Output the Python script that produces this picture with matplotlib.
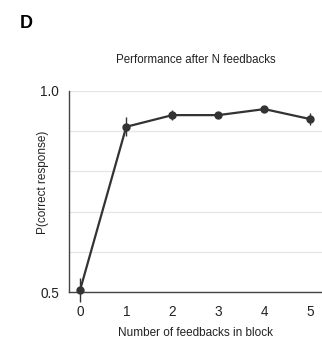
import matplotlib
matplotlib.use('Agg')
import matplotlib.pyplot as plt

plt.rcParams['font.family'] = ['Liberation Sans', 'DejaVu Sans']

# data
n_feedbacks = [0, 1, 2, 3, 4, 5]
p_correct = [0.506, 0.911, 0.940, 0.940, 0.955, 0.930]
p_err = [0.030, 0.024, 0.013, 0.004, 0.005, 0.015]

fig = plt.figure(figsize=(3.22, 3.39), dpi=100)
ax = fig.add_axes([68.7 / 322, 1 - 292 / 339, (322 - 68.7) / 322, (292 - 91) / 339])

ax.errorbar(n_feedbacks, p_correct, yerr=p_err, color='#333333', marker='o',
            markersize=5, linewidth=1.6, elinewidth=1.0, capsize=0, zorder=3,
            clip_on=False)

ax.set_xlim(-0.25, 5.25)
ax.set_ylim(0.5, 1.0)
ax.set_xticks(n_feedbacks)
ax.set_yticks([0.5, 0.6, 0.7, 0.8, 0.9, 1.0])
ax.set_yticklabels(['0.5', '', '', '', '', '1.0'])
ax.grid(axis='y', color='#e6e6e6', linewidth=1.0)
ax.set_axisbelow(True)
ax.tick_params(length=0, labelsize=9.8, colors='#222222')
ax.tick_params(axis='x', pad=9)
ax.tick_params(axis='y', pad=7)
for s in ['top', 'right']:
    ax.spines[s].set_visible(False)
for s in ['left', 'bottom']:
    ax.spines[s].set_color('#444444')
    ax.spines[s].set_linewidth(1.0)

ax.set_xlabel('Number of feedbacks in block', fontsize=8.5, color='#222222')
ax.xaxis.set_label_coords(0.5, -0.175)
ax.set_ylabel('P(correct response)', fontsize=8.5, color='#222222')
ax.yaxis.set_label_coords(-0.078, 0.545)
ax.set_title('Performance after N feedbacks', fontsize=8.3, color='#222222', pad=20)

fig.text(20 / 322, 1 - 24 / 339, 'D', fontsize=13, fontweight='bold', va='center')

fig.savefig('out.png', dpi=100)
